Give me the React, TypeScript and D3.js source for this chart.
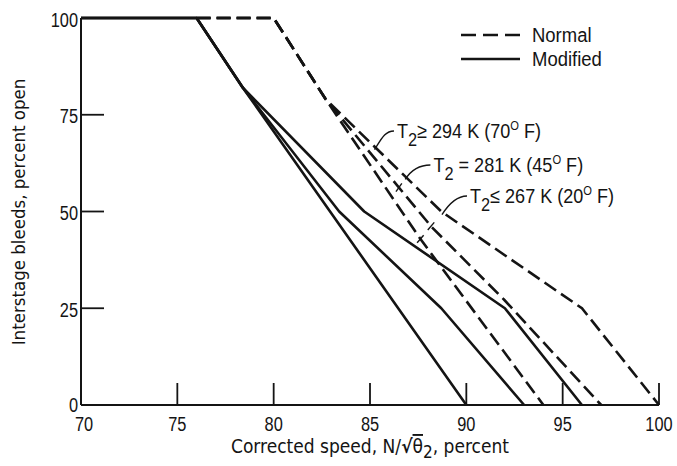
import React from 'react';
import * as d3 from 'd3';

// ---------- data ----------
const xTickValues = [75, 80, 85, 90, 95, 100];
const xTickLabels = [70, 75, 80, 85, 90, 95, 100];
const yTickValues = [25, 50, 75];
const yTickLabels = [0, 25, 50, 75, 100];

// Normal schedule (dashed)
const normalHot: [number, number][] = [[76, 100], [80, 100], [82.7, 79], [88.7, 50], [96, 25], [100, 0]];
const normalMid: [number, number][] = [[76, 100], [80, 100], [82.7, 79], [88.2, 46], [92, 27], [97, 0]];
const normalCold: [number, number][] = [[76, 100], [80, 100], [82.7, 79], [87.6, 43], [94, 0]];

// Modified schedule (solid)
const modifiedA: [number, number][] = [[70, 100], [76, 100], [78.4, 82], [84.7, 50], [92, 25], [96, 0]];
const modifiedB: [number, number][] = [[70, 100], [76, 100], [78.4, 82], [83.4, 50], [88.7, 25], [93, 0]];
const modifiedC: [number, number][] = [[70, 100], [76, 100], [78.4, 82], [90, 0]];

const normalSeries = [normalHot, normalMid, normalCold];
const modifiedSeries = [modifiedA, modifiedB, modifiedC];

const legendLabels = ['Normal', 'Modified'];

// annotation labels: text parts, anchor (data coords), crossing targets (series index, y value)
const annotations = [
  { rel: '\u2265', value: ' 294 K (70', deg: 'F)', ax: 86.4, ay: 69.0, targets: [{ s: 0, y: 66.5 }] },
  { rel: ' =', value: ' 281 K (45', deg: 'F)', ax: 88.29, ay: 60.2, targets: [{ s: 0, y: 58.8 }, { s: 1, y: 56.2 }] },
  { rel: '\u2264', value: ' 267 K (20', deg: 'F)', ax: 90.19, ay: 52.2, targets: [{ s: 0, y: 49.7 }, { s: 1, y: 46.2 }, { s: 2, y: 42.9 }] },
];

const W = 677;
const H = 466;
const TITLE_FONT = "'Liberation Sans Narrow', 'DejaVu Sans Condensed', 'Arial Narrow', sans-serif";
const NFONT = "'Liberation Sans', Arial, sans-serif";
const INK = '#141414';

function xAtY(series: [number, number][], yv: number): number {
  for (let i = 0; i < series.length - 1; i++) {
    const [x0, y0] = series[i];
    const [x1, y1] = series[i + 1];
    if ((yv <= y0 && yv >= y1) && y0 !== y1) {
      return x0 + ((y0 - yv) / (y0 - y1)) * (x1 - x0);
    }
  }
  return series[series.length - 1][0];
}

function NText(props: { x: number; y: number; sx: number; size: number; anchor?: string; children: React.ReactNode }) {
  return (
    <text transform={`translate(${props.x},${props.y}) scale(${props.sx},1)`} fontFamily={NFONT}
      fontSize={props.size} textAnchor={props.anchor || 'start'} fill={INK}>
      {props.children}
    </text>
  );
}

export default function App() {
  const x = d3.scaleLinear().domain([70, 100]).range([81, 659]);
  const y = d3.scaleLinear().domain([0, 100]).range([405, 18]);
  const line = d3.line<[number, number]>().x(d => x(d[0])).y(d => y(d[1]));

  return (
    <svg width={W} height={H} viewBox={`0 0 ${W} ${H}`}
      style={{ position: 'absolute', left: 0, top: 0, background: '#fff' }}
      fontFamily={TITLE_FONT}>
      <rect x={0} y={0} width={W} height={H} fill="#fff" />

      {/* axes */}
      <line x1={x(70)} y1={y(100)} x2={x(70)} y2={y(0)} stroke={INK} strokeWidth={2} />
      <line x1={x(70)} y1={y(0)} x2={x(100)} y2={y(0)} stroke={INK} strokeWidth={2.2} />
      {xTickValues.map(v => (
        <line key={'xt' + v} x1={x(v)} x2={x(v)} y1={y(0)} y2={y(0) - 22} stroke={INK} strokeWidth={1.8} />
      ))}
      {yTickValues.map(v => (
        <line key={'yt' + v} x1={x(70)} x2={x(70) + 23} y1={y(v)} y2={y(v)} stroke={INK} strokeWidth={1.8} />
      ))}
      {xTickLabels.map(v => (
        <NText key={'xl' + v} x={x(v) + (v === 70 ? 3 : 0)} y={431} sx={0.78} size={21} anchor="middle">{v}</NText>
      ))}
      {yTickLabels.map(v => (
        <NText key={'yl' + v} x={78} y={y(v) + (v === 0 ? 6.5 : 8.5)} sx={0.78} size={21} anchor="end">{v}</NText>
      ))}

      {/* axis titles */}
      <text x={370} y={453} fontSize={19} textAnchor="middle" fill={INK}>
        Corrected speed, N/<tspan fontWeight="bold">{'\u221A'}</tspan><tspan style={{ textDecoration: 'overline' }}>{'\u03B8'}</tspan><tspan fontSize={17} dy={5}>2</tspan><tspan dy={-5}>, percent</tspan>
      </text>
      <text transform={`translate(25, 212) rotate(-90)`} fontSize={18.5} textAnchor="middle" fill={INK}>
        Interstage bleeds, percent open
      </text>

      {/* curves */}
      {modifiedSeries.map((s, i) => (
        <path key={'m' + i} d={line(s) || ''} fill="none" stroke={INK} strokeWidth={2.6} strokeLinejoin="round" />
      ))}
      {normalSeries.map((s, i) => (
        <path key={'n' + i} d={line(s) || ''} fill="none" stroke={INK} strokeWidth={2.6} strokeDasharray="14 6" />
      ))}

      {/* legend */}
      <line x1={461} x2={520} y1={35} y2={35} stroke={INK} strokeWidth={2.4} strokeDasharray="15 7" />
      <line x1={461} x2={520} y1={59} y2={59} stroke={INK} strokeWidth={2.4} />
      <NText x={532} y={42} sx={0.88} size={21}>{legendLabels[0]}</NText>
      <NText x={532} y={66} sx={0.88} size={21}>{legendLabels[1]}</NText>

      {/* annotations */}
      {annotations.map((a, i) => {
        const tx = x(a.ax);
        const ty = y(a.ay);
        const pts = a.targets.map(t => {
          const yv = t.y;
          const xv = xAtY(normalSeries[t.s], yv);
          return [x(xv), y(yv)] as [number, number];
        });
        const p1 = pts[0];
        const sx = tx - 3;
        const sy = ty - 7;
        const d = `M${sx},${sy} C${sx - 9},${sy} ${p1[0] + 6},${p1[1] - 9} ${p1[0] - 1},${p1[1] + 2}`;
        const last = pts[pts.length - 1];
        const dir = pts.length > 1 ? [last[0] - p1[0], last[1] - p1[1]] : [-0.6, 1];
        const len = Math.hypot(dir[0], dir[1]);
        const ux = dir[0] / len;
        const uy = dir[1] / len;
        return (
          <g key={'a' + i}>
            <path d={d} fill="none" stroke={INK} strokeWidth={1.4} />
            {pts.slice(1).map((p, j) => (
              <line key={j} x1={p[0] - ux * 5} y1={p[1] - uy * 5} x2={p[0] + ux * 5} y2={p[1] + uy * 5} stroke={INK} strokeWidth={1.4} />
            ))}
            <NText x={tx} y={ty} sx={0.86} size={21}>
              T<tspan fontSize={19} dy={8}>2</tspan><tspan dy={-8}>{a.rel}{a.value}</tspan><tspan fontSize={13} dy={-8}>O</tspan><tspan dy={8}> {a.deg}</tspan>
            </NText>
          </g>
        );
      })}
    </svg>
  );
}
